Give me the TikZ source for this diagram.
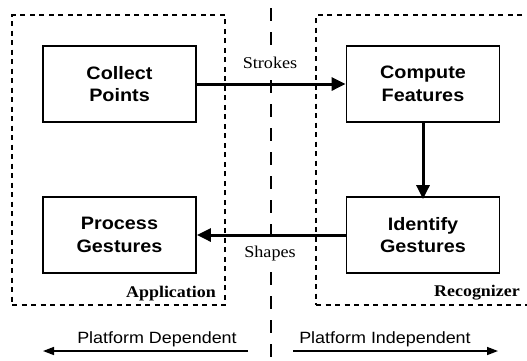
\documentclass[tikz,border=0pt]{standalone}
\usepackage{fontspec}
\setmainfont{Liberation Serif}[FakeStretch=1.1]
\newfontfamily\boxfont{Liberation Sans}[FakeStretch=1.1]
\usetikzlibrary{arrows.meta}
\tikzset{
  procbox/.style={draw, line width=1.8pt, minimum width=153pt, minimum height=76pt, inner sep=0pt,
    align=center, font=\boxfont\bfseries\fontsize{18}{22.5}\selectfont},
  container/.style={draw, line width=1.5pt, dash pattern=on 5pt off 4.5pt, inner sep=0pt},
  flow/.style={line width=3pt, -{Triangle[length=14pt,width=13pt]}},
  platarrow/.style={line width=1.5pt, -{Triangle[length=11pt,width=8pt]}},
  divider/.style={line width=1.8pt, dash pattern=on 13pt off 11pt, dash phase=16pt},
  flowlabel/.style={font=\fontsize{16.5}{18}\selectfont, inner sep=1pt, fill=white},
  grouplabel/.style={font=\bfseries\fontsize{16.3}{18}\selectfont, inner sep=0pt},
  platlabel/.style={font=\boxfont\fontsize{16.3}{18}\selectfont, inner sep=0pt}
}
\begin{document}
\begin{tikzpicture}[x=1pt,y=-1pt]
\useasboundingbox (0,0) rectangle (527,360);
\clip (0,0) rectangle (527,360);
% divider
\coordinate (dtop) at (271,0);
\coordinate (dbot) at (271,360);
\draw[divider] (dtop) -- (dbot);
% containers
\node[container, minimum width=213pt, minimum height=290pt] (app) at (118.5,160) {};
\node[container, minimum width=224pt, minimum height=290pt] (rec) at (428,160) {};
\node[grouplabel, anchor=base east] (applabel) at (216,297) {Application};
\node[grouplabel, anchor=base east] (reclabel) at (520,296) {Recognizer};
% process boxes
\node[procbox] (collect) at (119.5,84) {Collect\\Points};
\node[procbox] (compute) at (423,84) {Compute\\Features};
\node[procbox] (process) at (119.5,235) {Process\\Gestures};
\node[procbox] (identify) at (423,235) {Identify\\Gestures};
% flows
\draw[flow] (collect.east) -- (compute.west);
\draw[flow] (compute.south) -- ([yshift=-3pt]identify.north);
\draw[flow] (identify.west) -- (process.east);
\node[flowlabel, anchor=base] (strokes) at (270,68) {Strokes};
\node[flowlabel, anchor=base] (shapes) at (270,257) {Shapes};
% platform arrows
\coordinate (pd1) at (248,351);
\coordinate (pd2) at (43,351);
\coordinate (pi1) at (293,351);
\coordinate (pi2) at (498,351);
\draw[platarrow] (pd1) -- (pd2);
\draw[platarrow] (pi1) -- (pi2);
\node[platlabel, anchor=base] (pdep) at (157,343) {Platform Dependent};
\node[platlabel, anchor=base] (pind) at (385,343) {Platform Independent};
\end{tikzpicture}
\end{document}
